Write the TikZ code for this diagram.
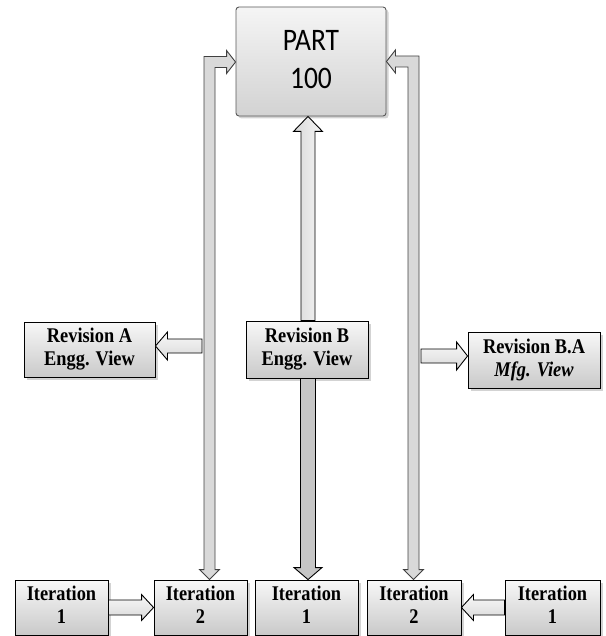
\documentclass[tikz,border=0pt]{standalone}
\usepackage{fontspec}
\usepackage{graphicx}
\setmainfont{Liberation Serif}
\newfontfamily\calib{Carlito}
\usetikzlibrary{calc,shadows}
\newcommand\vblock[6]{\draw[#6] (#2) -- ($(#2)+(#4,#5)$) -- ($(#2)+(#3,#5)$) -- ($(#1)+(#3,0)$) -- ($(#1)+(-#3,0)$) -- ($(#2)+(-#3,#5)$) -- ($(#2)+(-#4,#5)$) -- cycle;}
\newcommand\hblock[6]{\draw[#6] (#2) -- ($(#2)+(#5,#4)$) -- ($(#2)+(#5,#3)$) -- ($(#1)+(0,#3)$) -- ($(#1)+(0,-#3)$) -- ($(#2)+(#5,-#3)$) -- ($(#2)+(#5,-#4)$) -- cycle;}
\newcommand\twolines[2]{\scalebox{1.02}[1.16]{\begin{tabular}{@{}c@{}}#1\\#2\end{tabular}}}
\tikzset{
  box/.style={draw=black, line width=0.9pt, top color=gray!6, bottom color=gray!42,
    drop shadow={opacity=0.35, shadow xshift=2.5pt, shadow yshift=-2.5pt},
    font=\bfseries\fontsize{18}{20}\selectfont, align=center, inner sep=0pt},
  partbox/.style={draw=gray!70!black, line width=0.9pt, rounded corners=3pt, top color=gray!8, bottom color=gray!35,
    drop shadow={opacity=0.35, shadow xshift=2.5pt, shadow yshift=-2.5pt},
    font=\calib\fontsize{27}{33}\selectfont, align=center, inner sep=0pt,
    minimum width=150pt, minimum height=109pt},
  elbow/.style={draw=black!75, line width=0.9pt, fill=gray!30},
  lightarrow/.style={draw=black, line width=0.9pt, top color=gray!5, bottom color=gray!30},
  lightvarrow/.style={draw=black, line width=0.9pt, left color=gray!30, right color=gray!8},
  darkarrow/.style={draw=black, line width=0.9pt, fill=gray!45},
}
\begin{document}
\begin{tikzpicture}[x=1pt,y=-1pt]
\useasboundingbox (0,0) rectangle (605,636);
% nodes
\node[partbox] (part) at (311,61.5) {\twolines{PART}{100}};
\node[box, minimum width=131pt, minimum height=55pt] (revA) at (89.5,349.5) {\twolines{Revision A}{Engg. View}};
\node[box, minimum width=122pt, minimum height=57pt] (revB) at (307,349.5) {\twolines{Revision B}{Engg. View}};
\node[box, minimum width=132pt, minimum height=56pt] (revBA) at (534,360) {\twolines{Revision B.A}{\textit{Mfg. View}}};
\node[box, minimum width=93pt, minimum height=55pt] (it1L) at (61.5,607.5) {\twolines{Iteration}{1}};
\node[box, minimum width=93pt, minimum height=55pt] (it2L) at (200.5,607.5) {\twolines{Iteration}{2}};
\node[box, minimum width=103pt, minimum height=55pt] (it1C) at (306.5,607.5) {\twolines{Iteration}{1}};
\node[box, minimum width=94pt, minimum height=55pt] (it2R) at (414,607.5) {\twolines{Iteration}{2}};
\node[box, minimum width=95pt, minimum height=55pt] (it1R) at (552.5,607.5) {\twolines{Iteration}{1}};
% helper coordinates
\coordinate (L) at (209.5,62);
\coordinate (R) at (413.5,61.5);
\coordinate (C) at (308,200);
\coordinate (bL) at (it2L.north -| L);
\coordinate (tL) at (part.west |- L);
\coordinate (bR) at (it2R.north -| R);
\coordinate (tR) at (part.east |- R);
\coordinate (aA) at (202,346);
\coordinate (aB) at (421,356);
% elbow arrows (double headed)
\draw[elbow] (bL) -- ($(bL)+(10,-10)$) -- ($(bL)+(5.5,-10)$) -- ($(L)+(5.5,5.5)$) -- ($(tL)+(-9,5.5)$) -- ($(tL)+(-9,11.5)$) -- (tL) -- ($(tL)+(-9,-11.5)$) -- ($(tL)+(-9,-5.5)$) -- ($(L)+(-5.5,-5.5)$) -- ($(bL)+(-5.5,-10)$) -- ($(bL)+(-10,-10)$) -- cycle;
\draw[elbow] (bR) -- ($(bR)+(10,-10)$) -- ($(bR)+(5.5,-10)$) -- ($(R)+(5.5,-5.5)$) -- ($(tR)+(9,-5.5)$) -- ($(tR)+(9,-11.5)$) -- (tR) -- ($(tR)+(9,11.5)$) -- ($(tR)+(9,5.5)$) -- ($(R)+(-5.5,5.5)$) -- ($(bR)+(-5.5,-10)$) -- ($(bR)+(-10,-10)$) -- cycle;
% centre arrows
\vblock{revB.north -| C}{part.south -| C}{7}{14.5}{15}{lightvarrow}
\vblock{revB.south -| C}{it1C.north -| C}{7.5}{14}{-12}{darkarrow}
% side arrows
\hblock{aA}{revA.east |- aA}{7}{14}{12}{lightarrow}
\hblock{aB}{revBA.west |- aB}{7}{14}{-11}{lightarrow}
\hblock{it1L.east}{it2L.west}{7.5}{13}{-12}{lightarrow}
\hblock{it1R.west}{it2R.east}{7.5}{13}{12}{lightarrow}
\end{tikzpicture}
\end{document}
